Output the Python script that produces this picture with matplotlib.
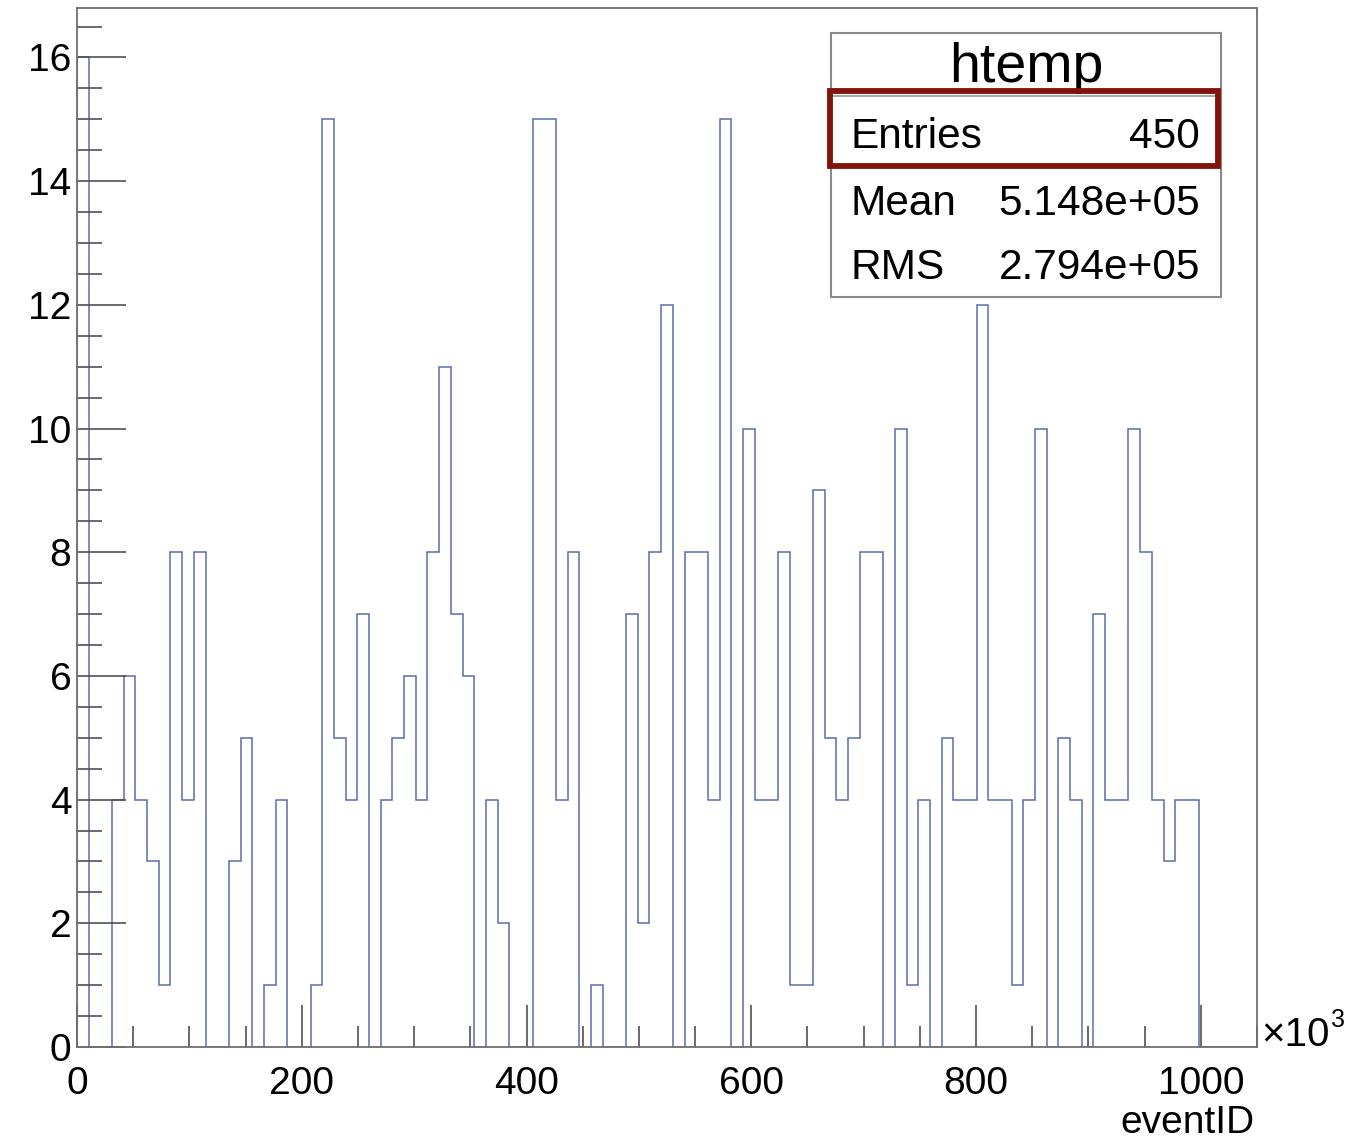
import numpy as np
import matplotlib
matplotlib.use("Agg")
import matplotlib.pyplot as plt
from matplotlib.patches import Rectangle
from matplotlib.ticker import MultipleLocator

plt.rcParams['font.family'] = ['Liberation Sans', 'DejaVu Sans']

# ---- data (eventID in units of 10^3) ----
x_min = 0.0
x_max = 1050.0
n_bins = 101
counts = [16, 0, 0, 4, 6, 4, 3, 1, 8, 4, 8,
          0, 0, 3, 5, 0, 1, 4, 0, 0,
          1, 15, 5, 4, 7, 0, 4, 5, 6, 4,
          8, 11, 7, 6, 0, 4, 2, 0, 0,
          15, 15, 4, 8, 0, 1, 0, 0,
          7, 2, 8, 12, 0, 8, 8, 4, 15, 0,
          10, 4, 4, 8, 1, 1, 9, 5, 4, 5, 8, 8, 0,
          10, 1, 4, 0, 5, 4, 4, 12, 4, 4,
          1, 4, 10, 0, 5, 4, 0, 7, 4, 4,
          10, 8, 4, 3, 4, 4,
          0, 0, 0, 0, 0]
x_ticks = [0, 200, 400, 600, 800, 1000]
y_ticks = [0, 2, 4, 6, 8, 10, 12, 14, 16]
stats_title = "htemp"
stats_rows = [("Entries", "450"), ("Mean", "5.148e+05"), ("RMS", "2.794e+05")]
x_label = "eventID"

W, H = 1347, 1140
fig = plt.figure(figsize=(W / 100, H / 100), dpi=100)
fig.patch.set_facecolor('white')

def fx(px):
    return px / W

def fy(py):
    return 1 - py / H

ax_l, ax_r, ax_t, ax_b = 77, 1257, 8, 1047
ax = fig.add_axes([fx(ax_l), fy(ax_b), fx(ax_r) - fx(ax_l), fy(ax_t) - fy(ax_b)])

edges = np.linspace(x_min, x_max, n_bins + 1)
ax.stairs(counts, edges, color='#5a6cae', linewidth=1.1, baseline=0)

ax.set_xlim(x_min, x_max)
ax.set_ylim(0, 16.8)

frame_col = '#707070'
for s in ax.spines.values():
    s.set_color(frame_col)
    s.set_linewidth(1.3)

ax.set_xticks(x_ticks)
ax.set_yticks(y_ticks)
ax.xaxis.set_minor_locator(MultipleLocator(50))
ax.yaxis.set_minor_locator(MultipleLocator(0.5))
ax.tick_params(axis='both', which='both', direction='in', color='#505050', width=1.2)
ax.tick_params(axis='x', which='major', length=30, pad=14, labelsize=28)
ax.tick_params(axis='x', which='minor', length=15)
ax.tick_params(axis='y', which='major', length=35, pad=4, labelsize=28)
ax.tick_params(axis='y', which='minor', length=18)
ax.tick_params(top=False, right=False, which='both')

# x10^3 exponent label
fig.text(fx(1261), fy(1046), "\u00d710", fontsize=29, ha='left', va='baseline')
fig.text(fx(1331), fy(1027), "3", fontsize=18, ha='left', va='baseline')

# axis title
fig.text(fx(1255), fy(1133), x_label, fontsize=28, ha='right', va='baseline')

# stats box
bx0, bx1, by0, by1 = 831, 1221, 33, 297
fig.patches.append(Rectangle((fx(bx0), fy(by1)), fx(bx1) - fx(bx0), fy(by0) - fy(by1),
                             transform=fig.transFigure, facecolor='white',
                             edgecolor='#8a8a8a', linewidth=1.5, zorder=5))
fig.lines.append(plt.Line2D([fx(bx0), fx(bx1)], [fy(96), fy(96)],
                            transform=fig.transFigure, color='#9a9a9a', lw=1.2, zorder=6))
fig.text(fx(1026), fy(82), stats_title, fontsize=40, ha='center', va='baseline', zorder=7)
row_baselines = [148, 215, 279]
for (lab, val), yb in zip(stats_rows, row_baselines):
    fig.text(fx(850), fy(yb), lab, fontsize=30.5, ha='left', va='baseline', zorder=7)
    fig.text(fx(1200), fy(yb), val, fontsize=30.5, ha='right', va='baseline', zorder=7)

# highlight box around Entries
fig.patches.append(Rectangle((fx(830), fy(166)), fx(1218) - fx(830), fy(91) - fy(166),
                             transform=fig.transFigure, facecolor='none',
                             edgecolor='#821308', linewidth=4.2, zorder=8))

fig.savefig("out.png", dpi=100, facecolor='white')
